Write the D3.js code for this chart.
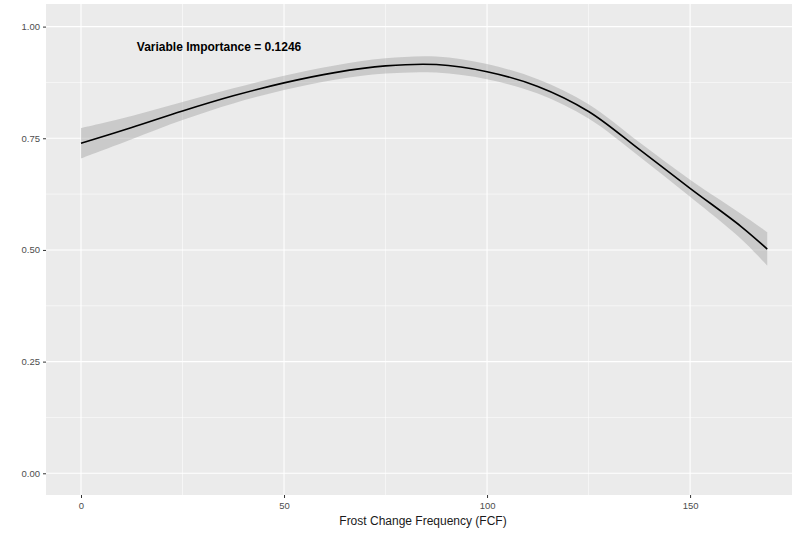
<!DOCTYPE html>
<html>
<head>
<meta charset="utf-8">
<script src="https://cdn.jsdelivr.net/npm/d3@7"></script>
<style>
  html, body { margin: 0; padding: 0; background: #ffffff; }
  svg { display: block; }
</style>
</head>
<body>
<div id="chart"></div>
<script>
// Smoothed response of the model against frost change frequency
const fcf     = [0, 12.5, 25, 37.5, 50, 62.5, 75, 87.5, 100, 112.5, 125, 137.5, 150, 162.5, 169];
const fitted  = [0.739, 0.774, 0.811, 0.845, 0.874, 0.897, 0.912, 0.915, 0.899, 0.866, 0.810, 0.725, 0.638, 0.553, 0.502];
const lower   = [0.705, 0.748, 0.791, 0.828, 0.858, 0.881, 0.895, 0.897, 0.882, 0.850, 0.794, 0.709, 0.619, 0.525, 0.465];
const upper   = [0.773, 0.800, 0.831, 0.862, 0.890, 0.913, 0.929, 0.933, 0.916, 0.882, 0.826, 0.741, 0.657, 0.581, 0.540];

const xTicks = [0, 50, 100, 150];
const xMinor = [25, 75, 125];
const yTicks = [0, 0.25, 0.5, 0.75, 1.0];
const yMinor = [0.125, 0.375, 0.625, 0.875];

const xTitle = "Frost Change Frequency (FCF)";
const noteText = "Variable Importance = 0.1246";
const notePos = { x: 34, y: 0.954 };

const W = 801, H = 535;
const panel = { left: 46, top: 4, right: 792, bottom: 495 };

const svg = d3.select("#chart").append("svg")
  .attr("width", W).attr("height", H);

const x = d3.scaleLinear().domain([-8.62, 175.1]).range([panel.left, panel.right]);
const y = d3.scaleLinear().domain([-0.0486, 1.0506]).range([panel.bottom, panel.top]);

// panel background
svg.append("rect")
  .attr("x", panel.left).attr("y", panel.top)
  .attr("width", panel.right - panel.left)
  .attr("height", panel.bottom - panel.top)
  .attr("fill", "#ebebeb");

const grid = svg.append("g");
// minor grid
grid.selectAll(".xminor").data(xMinor).join("line")
  .attr("x1", d => x(d)).attr("x2", d => x(d))
  .attr("y1", panel.top).attr("y2", panel.bottom)
  .attr("stroke", "#ffffff").attr("stroke-width", 0.55);
grid.selectAll(".yminor").data(yMinor).join("line")
  .attr("y1", d => y(d)).attr("y2", d => y(d))
  .attr("x1", panel.left).attr("x2", panel.right)
  .attr("stroke", "#ffffff").attr("stroke-width", 0.55);
// major grid
grid.selectAll(".xmajor").data(xTicks).join("line")
  .attr("x1", d => x(d)).attr("x2", d => x(d))
  .attr("y1", panel.top).attr("y2", panel.bottom)
  .attr("stroke", "#ffffff").attr("stroke-width", 1.1);
grid.selectAll(".ymajor").data(yTicks).join("line")
  .attr("y1", d => y(d)).attr("y2", d => y(d))
  .attr("x1", panel.left).attr("x2", panel.right)
  .attr("stroke", "#ffffff").attr("stroke-width", 1.1);

// confidence band and smoothed line
const rows = fcf.map((v, i) => ({ x: v, fit: fitted[i], lo: lower[i], hi: upper[i] }));

const band = d3.area()
  .x(d => x(d.x)).y0(d => y(d.lo)).y1(d => y(d.hi))
  .curve(d3.curveCatmullRom);
svg.append("path").datum(rows)
  .attr("d", band)
  .attr("fill", "#999999").attr("fill-opacity", 0.4);

const line = d3.line()
  .x(d => x(d.x)).y(d => y(d.fit))
  .curve(d3.curveCatmullRom);
svg.append("path").datum(rows)
  .attr("d", line)
  .attr("fill", "none").attr("stroke", "#000000").attr("stroke-width", 1.6);

// axes
const xAxis = svg.append("g")
  .attr("transform", `translate(0,${panel.bottom})`)
  .call(d3.axisBottom(x).tickValues(xTicks).tickSize(3).tickPadding(4).tickFormat(d3.format("d")));
const yAxis = svg.append("g")
  .attr("transform", `translate(${panel.left},0)`)
  .call(d3.axisLeft(y).tickValues(yTicks).tickSize(3).tickPadding(3).tickFormat(d3.format(".2f")));

[xAxis, yAxis].forEach(g => {
  g.select(".domain").remove();
  g.selectAll(".tick line").attr("stroke", "#333333").attr("stroke-width", 1);
  g.selectAll(".tick text")
    .attr("fill", "#4d4d4d")
    .style("font-family", "Arial, 'Liberation Sans', sans-serif")
    .style("font-size", "9.5px");
});

// axis title
svg.append("text")
  .attr("x", (panel.left + panel.right) / 2 + 4)
  .attr("y", 525)
  .attr("text-anchor", "middle")
  .attr("fill", "#1a1a1a")
  .style("font-family", "Arial, 'Liberation Sans', sans-serif")
  .style("font-size", "12px")
  .text(xTitle);

// annotation
svg.append("text")
  .attr("x", x(notePos.x))
  .attr("y", y(notePos.y))
  .attr("dy", "0.35em")
  .attr("text-anchor", "middle")
  .attr("fill", "#000000")
  .style("font-family", "Arial, 'Liberation Sans', sans-serif")
  .style("font-size", "12px")
  .style("font-weight", "bold")
  .text(noteText);
</script>
</body>
</html>
